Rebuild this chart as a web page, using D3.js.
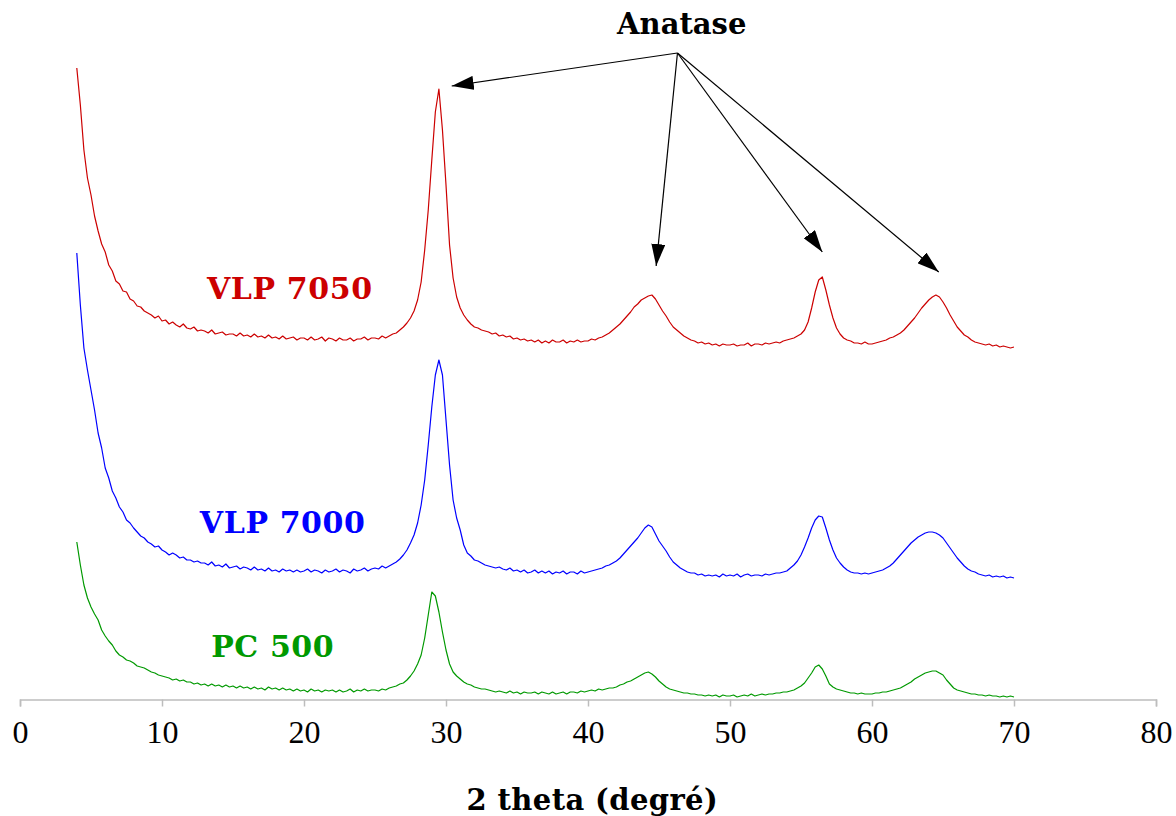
<!DOCTYPE html>
<html lang="fr">

<head>
    <meta charset="UTF-8">
    <title>DRX - Anatase</title>
    <script src="https://d3js.org/d3.v7.min.js"></script>
    <style>
        body {
            margin: 0;
            background: #fff;
        }

        .lbl {
            font-family: "DejaVu Serif", serif;
            font-weight: bold;
        }

        .tick-lbl {
            font-family: "Liberation Serif", "DejaVu Serif", serif;
        }
    </style>
</head>

<body>
    <div id="chart"></div>

    <script>
        // scan grid: 4 -> 70 deg, step 0.25
        const angleStart = 4;
        const angleStep = 0.25;

        // intensities (a.u., curves already stacked), one row per degree
        const vlp7050 = [
            632, 595, 550, 522, 505, 484, 469, 456, 448, 435, 429, 419, 416, 409, 408, 401,
            399, 394, 393, 389, 387, 385, 382, 384, 379, 380, 376, 378, 375, 373, 376, 372,
            371, 373, 369, 370, 369, 367, 370, 366, 367, 368, 365, 366, 366, 364, 367, 364,
            365, 363, 366, 363, 364, 362, 365, 362, 363, 361, 364, 361, 362, 363, 360, 362,
            362, 360, 363, 360, 361, 363, 359, 362, 361, 359, 362, 360, 360, 362, 359, 361,
            361, 363, 360, 362, 362, 361, 364, 362, 364, 366, 367, 370, 373, 377, 382, 389,
            400, 418, 450, 490, 540, 588, 611, 570, 515, 455, 422, 403, 392, 385, 380, 376,
            373, 372, 370, 369, 368, 366, 367, 364, 365, 363, 364, 361, 362, 360, 361, 359,
            360, 358, 360, 357, 359, 357, 360, 358, 358, 360, 357, 359, 358, 360, 358, 359,
            359, 361, 360, 362, 363, 365, 367, 370, 373, 376, 380, 384, 388, 393, 396, 400,
            402, 404, 405, 401, 395, 389, 384, 378, 373, 370, 367, 364, 362, 360, 359, 357,
            358, 356, 357, 355, 356, 354, 356, 355, 355, 356, 354, 355, 355, 357, 354, 356,
            356, 355, 357, 356, 357, 358, 357, 359, 360, 361, 362, 364, 366, 370, 378, 392,
            408, 420, 423, 410, 395, 382, 372, 366, 362, 360, 359, 357, 357, 356, 358, 356,
            356, 357, 358, 359, 360, 362, 363, 365, 367, 370, 374, 378, 382, 387, 392, 396,
            400, 403, 405, 403, 398, 392, 385, 379, 373, 369, 365, 363, 360, 358, 357, 356,
            355, 356, 354, 355, 353, 354, 353, 352, 353
        ];

        const vlp7000 = [
            447, 395, 352, 330, 310, 290, 267, 252, 232, 222, 209, 202, 193, 188, 180, 177,
            172, 168, 164, 162, 158, 156, 153, 154, 150, 148, 145, 147, 145, 142, 143, 140,
            140, 138, 139, 137, 137, 135, 138, 134, 135, 133, 136, 132, 133, 134, 131, 133,
            132, 130, 133, 130, 131, 129, 132, 129, 130, 128, 131, 129, 130, 128, 130, 128,
            129, 131, 128, 130, 129, 127, 130, 128, 129, 131, 128, 130, 129, 127, 131, 129,
            130, 132, 129, 131, 132, 131, 134, 132, 134, 136, 138, 141, 145, 150, 157, 165,
            177, 195, 220, 255, 293, 325, 340, 325, 280, 235, 200, 182, 170, 155, 147, 144,
            140, 139, 137, 135, 134, 133, 132, 133, 131, 130, 132, 129, 130, 128, 130, 127,
            128, 130, 127, 129, 127, 129, 126, 128, 127, 129, 126, 128, 128, 126, 129, 127,
            128, 129, 130, 131, 132, 134, 135, 137, 139, 142, 146, 150, 154, 158, 162, 167,
            172, 175, 173, 166, 159, 154, 149, 143, 138, 135, 132, 130, 128, 127, 127, 125,
            126, 124, 125, 124, 125, 123, 126, 124, 125, 124, 126, 123, 125, 126, 124, 125,
            125, 124, 126, 125, 126, 127, 127, 128, 129, 132, 135, 139, 145, 153, 162, 172,
            180, 184, 183, 172, 160, 150, 142, 137, 133, 130, 128, 127, 127, 126, 127, 126,
            127, 128, 129, 130, 132, 134, 137, 141, 145, 149, 153, 157, 160, 163, 165, 167,
            168, 168, 167, 165, 162, 157, 152, 147, 142, 138, 134, 131, 129, 128, 126, 125,
            124, 125, 123, 124, 123, 124, 122, 123, 122
        ];

        const pc500 = [
            158, 135, 115, 102, 93, 86, 80, 70, 64, 59, 55, 49, 45, 43, 40, 39,
            37, 34, 33, 32, 30, 28, 27, 25, 24, 23, 22, 20, 21, 19, 20, 18,
            18, 16, 17, 15, 16, 14, 16, 14, 15, 13, 15, 13, 14, 12, 14, 12,
            13, 11, 13, 11, 12, 10, 13, 11, 12, 10, 12, 10, 11, 9, 11, 9,
            10, 8, 11, 9, 10, 8, 10, 9, 10, 8, 10, 8, 9, 11, 8, 10,
            9, 11, 9, 10, 10, 9, 11, 10, 12, 13, 14, 16, 17, 20, 24, 29,
            36, 45, 62, 85, 108, 104, 88, 68, 50, 36, 28, 24, 21, 18, 16, 15,
            13, 12, 11, 11, 10, 9, 8, 9, 8, 7, 9, 7, 8, 6, 8, 7,
            7, 8, 6, 8, 7, 6, 8, 6, 7, 8, 6, 8, 8, 7, 9, 8,
            9, 10, 9, 11, 10, 11, 12, 12, 13, 15, 16, 18, 19, 21, 23, 25,
            27, 28, 26, 23, 19, 16, 13, 11, 10, 9, 8, 7, 7, 6, 6, 5,
            5, 4, 5, 4, 5, 3, 5, 4, 4, 5, 3, 4, 5, 4, 6, 4,
            5, 6, 5, 6, 6, 7, 7, 8, 8, 9, 10, 12, 14, 17, 22, 27,
            33, 35, 31, 24, 16, 13, 11, 10, 9, 8, 7, 7, 6, 7, 6, 6,
            6, 7, 7, 8, 8, 9, 10, 11, 12, 14, 16, 18, 21, 23, 25, 27,
            28, 29, 29, 27, 25, 20, 16, 12, 10, 9, 8, 7, 6, 6, 5, 5,
            4, 5, 4, 4, 3, 4, 3, 4, 3
        ];

        const seriesNames = ["VLP 7050", "VLP 7000", "PC 500"];
        const seriesColors = ["#cc0000", "#0000ff", "#009900"];
        // label anchor: [2theta, intensity] of the label centre baseline
        const labelPos = [[19.0, 401], [18.5, 167], [17.8, 43]];

        const xTicks = [0, 10, 20, 30, 40, 50, 60, 70, 80];

        // "Anatase" annotation: arrow origin and targets [2theta, intensity]
        const arrowFrom = [46.3, 647];
        const arrowTo = [[30.4, 614], [44.8, 434], [56.5, 448], [64.7, 428]];

        const width = 1176;
        const height = 816;
        const margin = { top: 40, right: 20, bottom: 116, left: 20 };

        const x = d3.scaleLinear()
            .domain([0, 80])
            .range([margin.left, width - margin.right]);

        const y = d3.scaleLinear()
            .domain([0, 660])
            .range([height - margin.bottom, height - margin.bottom - 660]);

        const svg = d3.select("#chart")
            .append("svg")
            .attr("width", width)
            .attr("height", height);

        const defs = svg.append("defs");
        defs.append("marker")
            .attr("id", "head")
            .attr("markerUnits", "userSpaceOnUse")
            .attr("viewBox", "0 0 22 14")
            .attr("refX", 22)
            .attr("refY", 7)
            .attr("markerWidth", 22)
            .attr("markerHeight", 14)
            .attr("orient", "auto")
            .append("path")
            .attr("d", "M0,0 L22,7 L0,14 Z")
            .attr("fill", "#000");

        // x axis
        const axisY = y(0) - 0.5;
        const xAxis = svg.append("g")
            .attr("transform", `translate(0, ${axisY})`)
            .call(d3.axisBottom(x).tickValues(xTicks).tickSize(7).tickPadding(14));

        xAxis.select(".domain").attr("stroke", "#bdbdbd").attr("stroke-width", 1.5);
        xAxis.selectAll(".tick line").attr("stroke", "#bdbdbd").attr("stroke-width", 1.5);
        xAxis.selectAll(".tick text")
            .attr("class", "tick-lbl")
            .attr("font-size", 32)
            .attr("fill", "#000");

        svg.append("text")
            .attr("class", "lbl")
            .attr("x", x(40.3))
            .attr("y", 810)
            .attr("text-anchor", "middle")
            .attr("font-size", 29)
            .attr("letter-spacing", 0.4)
            .text("2 theta (degré)");

        // curves
        const series = [vlp7050, vlp7000, pc500];
        const line = d3.line()
            .x((d, i) => x(angleStart + i * angleStep))
            .y(d => y(d));

        svg.selectAll(".curve")
            .data(series)
            .join("path")
            .attr("class", "curve")
            .attr("fill", "none")
            .attr("stroke", (d, i) => seriesColors[i])
            .attr("stroke-width", 1.2)
            .attr("stroke-linejoin", "round")
            .attr("d", line);

        svg.selectAll(".series-lbl")
            .data(seriesNames)
            .join("text")
            .attr("class", "lbl series-lbl")
            .attr("x", (d, i) => x(labelPos[i][0]))
            .attr("y", (d, i) => y(labelPos[i][1]))
            .attr("text-anchor", "middle")
            .attr("font-size", 30)
            .attr("letter-spacing", 0.6)
            .attr("fill", (d, i) => seriesColors[i])
            .text(d => d);

        // annotation
        svg.append("text")
            .attr("class", "lbl")
            .attr("x", x(46.6))
            .attr("y", 34)
            .attr("text-anchor", "middle")
            .attr("font-size", 29)
            .text("Anatase");

        svg.selectAll(".arrow")
            .data(arrowTo)
            .join("line")
            .attr("class", "arrow")
            .attr("x1", x(arrowFrom[0]))
            .attr("y1", y(arrowFrom[1]))
            .attr("x2", d => x(d[0]))
            .attr("y2", d => y(d[1]))
            .attr("stroke", "#000")
            .attr("stroke-width", 1.2)
            .attr("marker-end", "url(#head)");
    </script>
</body>

</html>
